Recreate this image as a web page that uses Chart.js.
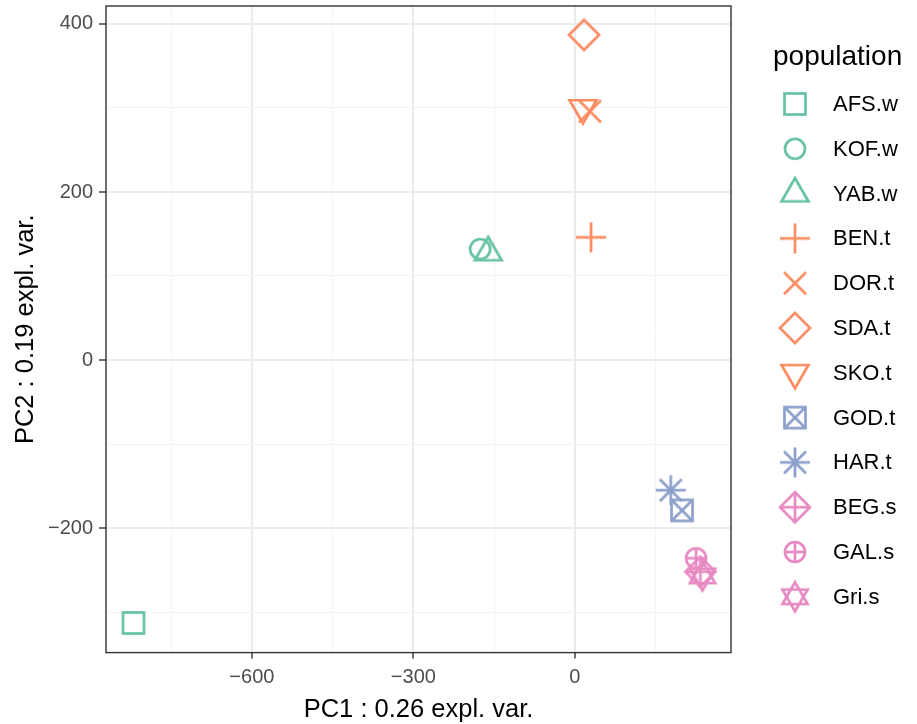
<!DOCTYPE html>
<html>
<head>
<meta charset="utf-8">
<script src="https://cdn.jsdelivr.net/npm/chart.js@4.4.1/dist/chart.umd.min.js"></script>
<style>
  html, body { margin: 0; padding: 0; background: #fff; }
  #wrap { width: 917px; height: 724px; }
</style>
</head>
<body>
<div id="wrap"><canvas id="pca" width="917" height="724"></canvas></div>
<script>
// données (PC1 / PC2)
const populations = ['AFS.w','KOF.w','YAB.w','BEN.t','DOR.t','SDA.t','SKO.t','GOD.t','HAR.t','BEG.s','GAL.s','Gri.s'];
const pc1 = [-820, -176, -161, 30, 28, 17, 15, 199, 178, 233, 225, 237];
const pc2 = [-313, 132, 128, 146, 296, 387, 300, -179, -155, -252, -236, -257];
const couleurs = ['#66C2A5','#66C2A5','#66C2A5','#FC8D62','#FC8D62','#FC8D62','#FC8D62','#8DA0CB','#8DA0CB','#E78AC3','#E78AC3','#E78AC3'];
const formes = ['square','circle','triUp','plus','cross','diamond','triDown','squareX','asterisk','diamondPlus','circlePlus','star'];
const xTicks = [-750, -600, -450, -300, -150, 0, 150];
const yTicks = [-300, -200, -100, 0, 100, 200, 300, 400];

const FONT = '"Liberation Sans", Arial, sans-serif';

// dessine un symbole "ggplot" creux dans un petit canvas
function symbole(forme, couleur) {
  const size = 40;
  const cv = document.createElement('canvas');
  cv.width = size; cv.height = size;
  const g = cv.getContext('2d');
  const c = size / 2;
  g.strokeStyle = couleur;
  g.lineWidth = 2.7;
  g.lineCap = 'butt';
  g.lineJoin = 'miter';
  const line = (x1, y1, x2, y2) => { g.beginPath(); g.moveTo(c + x1, c + y1); g.lineTo(c + x2, c + y2); g.stroke(); };
  const poly = pts => { g.beginPath(); pts.forEach((p, i) => i ? g.lineTo(c + p[0], c + p[1]) : g.moveTo(c + p[0], c + p[1])); g.closePath(); g.stroke(); };
  const tri = (r, sgn) => [[0, -r * sgn], [r * 0.866, r * 0.5 * sgn], [-r * 0.866, r * 0.5 * sgn]];
  const s = 10.5, r = 10, d = 15, k = 11;
  switch (forme) {
    case 'square': g.strokeRect(c - s, c - s, 2 * s, 2 * s); break;
    case 'circle': g.beginPath(); g.arc(c, c, r, 0, Math.PI * 2); g.stroke(); break;
    case 'triUp': poly(tri(15.5, 1)); break;
    case 'triDown': poly(tri(15.5, -1)); break;
    case 'plus': line(-d, 0, d, 0); line(0, -d, 0, d); break;
    case 'cross': line(-k, -k, k, k); line(-k, k, k, -k); break;
    case 'diamond': poly([[0, -d], [d, 0], [0, d], [-d, 0]]); break;
    case 'squareX':
      g.strokeRect(c - s, c - s, 2 * s, 2 * s);
      line(-s, -s, s, s); line(-s, s, s, -s); break;
    case 'asterisk':
      line(-d, 0, d, 0); line(0, -d, 0, d);
      line(-k, -k, k, k); line(-k, k, k, -k); break;
    case 'diamondPlus':
      poly([[0, -d], [d, 0], [0, d], [-d, 0]]);
      line(-d, 0, d, 0); line(0, -d, 0, d); break;
    case 'circlePlus':
      g.beginPath(); g.arc(c, c, r, 0, Math.PI * 2); g.stroke();
      line(-r, 0, r, 0); line(0, -r, 0, r); break;
    case 'star': poly(tri(14.5, 1)); poly(tri(14.5, -1)); break;
  }
  return cv;
}

const datasets = populations.map((p, i) => ({
  label: p,
  data: [{ x: pc1[i], y: pc2[i] }],
  pointStyle: symbole(formes[i], couleurs[i]),
  pointRadius: 12,
  borderColor: couleurs[i],
  backgroundColor: 'transparent'
}));

// cadre, titres des axes et légende dessinés à la main
const panneau = {
  id: 'panneau',
  afterDatasetsDraw(chart) {
    const { ctx, chartArea: a } = chart;
    ctx.save();
    ctx.strokeStyle = '#333333';
    ctx.lineWidth = 1.4;
    ctx.strokeRect(a.left, a.top, a.right - a.left, a.bottom - a.top);
    ctx.restore();
  },
  afterDraw(chart) {
    const { ctx, chartArea: a } = chart;
    ctx.save();
    ctx.fillStyle = '#000';
    ctx.textAlign = 'center';
    ctx.textBaseline = 'alphabetic';
    ctx.font = '25.5px ' + FONT;
    ctx.fillText('PC1 : 0.26 expl. var.', (a.left + a.right) / 2, 717);
    ctx.translate(33, (a.top + a.bottom) / 2);
    ctx.rotate(-Math.PI / 2);
    ctx.fillText('PC2 : 0.19 expl. var.', 0, 0);
    ctx.restore();

    ctx.save();
    ctx.fillStyle = '#000';
    ctx.textBaseline = 'middle';
    ctx.font = '28px ' + FONT;
    ctx.fillText('population', 773, 57);
    ctx.font = '22px ' + FONT;
    chart.data.datasets.forEach((ds, i) => {
      const y = 104 + i * 44.8;
      const im = ds.pointStyle;
      ctx.drawImage(im, 795 - im.width / 2, y - im.height / 2);
      ctx.fillText(ds.label, 833, y + 1);
    });
    // l'image d'origine est rognée vers x = 901
    ctx.fillStyle = '#fff';
    ctx.fillRect(901, 0, 16, 724);
    ctx.restore();
  }
};

const estMajeur = (v, pas) => Math.abs(v % pas) < 1e-6;

new Chart(document.getElementById('pca'), {
  type: 'scatter',
  data: { datasets },
  options: {
    responsive: false,
    animation: false,
    devicePixelRatio: 1,
    layout: { autoPadding: false, padding: { left: 0, top: 6, right: 186, bottom: 0 } },
    plugins: { legend: { display: false }, tooltip: { enabled: false } },
    scales: {
      x: {
        type: 'linear', min: -871, max: 290,
        afterBuildTicks: s => { s.ticks = xTicks.map(v => ({ value: v })); },
        afterFit: s => { s.height = 71.4; s.paddingLeft = 0; s.paddingRight = 0; },
        border: { display: false },
        grid: {
          color: c => estMajeur(c.tick.value, 300) ? '#EBEBEB' : '#F3F3F3',
          lineWidth: c => estMajeur(c.tick.value, 300) ? 2 : 1,
          tickColor: c => estMajeur(c.tick.value, 300) ? '#333333' : 'rgba(0,0,0,0)',
          tickWidth: 1.4,
          tickLength: 6
        },
        ticks: {
          color: '#4D4D4D', font: { family: FONT, size: 20 }, padding: 7,
          maxRotation: 0, autoSkip: false,
          callback: v => estMajeur(v, 300) ? String(v).replace('-', '\u2212') : ''
        }
      },
      y: {
        type: 'linear', min: -348.3, max: 421.4,
        afterBuildTicks: s => { s.ticks = yTicks.map(v => ({ value: v })); },
        afterFit: s => { s.width = 106; s.paddingTop = 0; s.paddingBottom = 0; },
        border: { display: false },
        grid: {
          color: c => estMajeur(c.tick.value, 200) ? '#EBEBEB' : '#F3F3F3',
          lineWidth: c => estMajeur(c.tick.value, 200) ? 2 : 1,
          tickColor: c => estMajeur(c.tick.value, 200) ? '#333333' : 'rgba(0,0,0,0)',
          tickWidth: 1.4,
          tickLength: 7
        },
        ticks: {
          color: '#4D4D4D', font: { family: FONT, size: 20 }, padding: 6,
          autoSkip: false,
          callback: v => estMajeur(v, 200) ? String(v).replace('-', '\u2212') : ''
        }
      }
    }
  },
  plugins: [panneau]
});
</script>
</body>
</html>
